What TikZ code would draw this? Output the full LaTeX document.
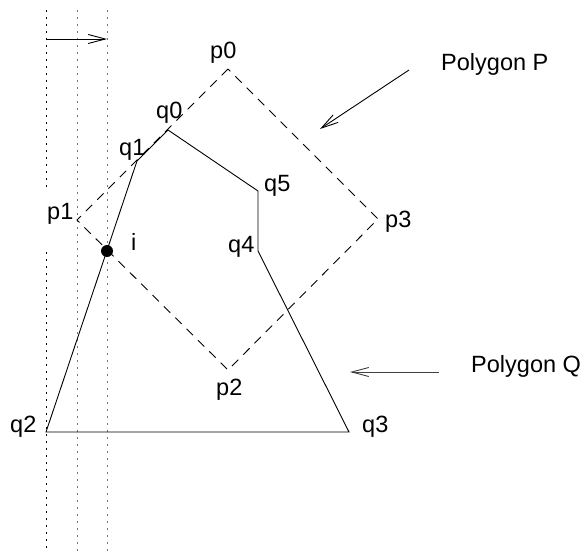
\documentclass[tikz,border=0pt]{standalone}
\usepackage{fontspec}
\setmainfont{Liberation Sans}
\usetikzlibrary{arrows.meta}
\begin{document}
\begin{tikzpicture}[x=1bp,y=-1bp,
  lbl/.style={anchor=base west,inner sep=0pt,font=\fontsize{23.6}{28}\selectfont},
  sweep/.style={line width=1bp,dash pattern=on 1.6bp off 5.4bp},
  pedge/.style={line width=0.9bp,dash pattern=on 9bp off 7bp},
  qedge/.style={line width=0.9bp,line join=miter},
  callout/.style={line width=0.9bp,-{Straight Barb[length=17bp,width=9bp,line width=0.9bp]}}]
\useasboundingbox (0,0) rectangle (585,552);

% sweep lines
\coordinate (s1a) at (46,10);  \coordinate (s1b) at (46,187);
\coordinate (s1c) at (46,252); \coordinate (s1d) at (46,552);
\coordinate (s2a) at (77,10);  \coordinate (s2b) at (77,552);
\coordinate (s3a) at (107,10); \coordinate (s3b) at (107,552);
\draw[sweep,black] (s1a) -- (s1b) (s1c) -- (s1d);
\draw[sweep,black!55] (s2a) -- (s2b);
\draw[sweep,black!55] (s3a) -- (s3b);
\coordinate (m0) at (46,39); \coordinate (m1) at (107,39);
\draw[callout] (m0) -- (m1);

% polygon P
\coordinate (p0) at (228,69);
\coordinate (p1) at (77,220);
\coordinate (p2) at (228,370);
\coordinate (p3) at (378,219);
\draw[pedge] (p0) -- (p1) -- (p2) -- (p3) -- cycle;

% polygon Q
\coordinate (q0) at (168,130);
\coordinate (q1) at (137,161);
\coordinate (q2) at (46,432);
\coordinate (q3) at (349,432);
\coordinate (q4) at (258,251);
\coordinate (q5) at (258,191);
\draw[qedge] (q0) -- (q1) -- (q2) -- (q3) -- (q4) -- (q5) -- cycle;

% intersection point
\fill (107,251) circle (6bp) coordinate (pi);

% vertex labels
\node[lbl] (lp0) at (210,59) {p0};
\node[lbl] (lp1) at (47,220) {p1};
\node[lbl] (lp2) at (216,395) {p2};
\node[lbl] (lp3) at (385,228) {p3};
\node[lbl] (lq0) at (156,119) {q0};
\node[lbl] (lq1) at (119,156) {q1};
\node[lbl] (lq2) at (10,432) {q2};
\node[lbl] (lq3) at (362,432) {q3};
\node[lbl] (lq4) at (228,252) {q4};
\node[lbl] (lq5) at (264,192) {q5};
\node[lbl] (li) at (131,250) {i};

% polygon names with pointers
\node[lbl] (nP) at (441,71) {Polygon P};
\node[lbl] (nQ) at (471,372) {Polygon Q};
\coordinate (aP0) at (409,70); \coordinate (aP1) at (320,129);
\coordinate (aQ0) at (439,372); \coordinate (aQ1) at (350,372);
\draw[callout] (aP0) -- (aP1);
\draw[callout,black!75] (aQ0) -- (aQ1);
\end{tikzpicture}
\end{document}
